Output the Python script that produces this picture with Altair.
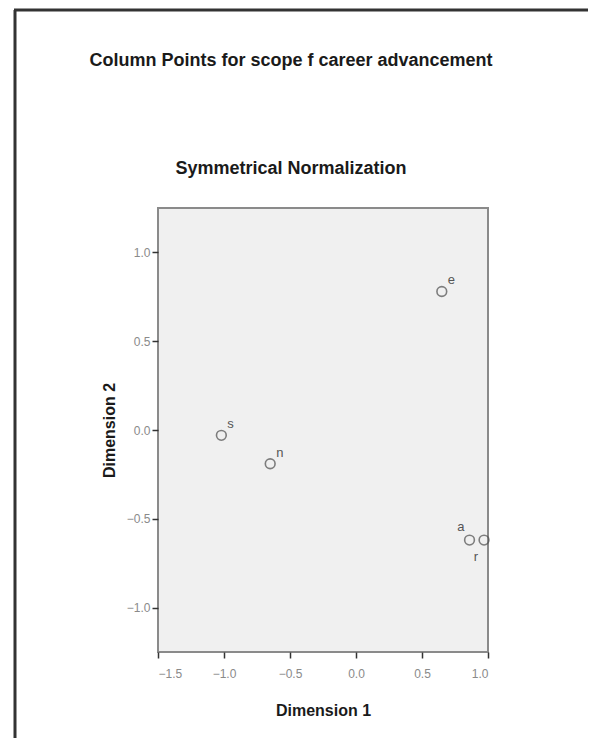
import altair as alt
import pandas as pd

# Column points (Symmetrical Normalization)
labels = ["s", "n", "e", "a", "r"]
dim1 = [-1.02, -0.65, 0.65, 0.86, 0.97]
dim2 = [-0.03, -0.19, 0.78, -0.62, -0.62]
label_group = ["ur", "ur", "ur", "ul", "dl"]

x_ticks = [-1.5, -1.0, -0.5, 0.0, 0.5, 1.0]
y_ticks = [-1.0, -0.5, 0.0, 0.5, 1.0]

main_title = "Column Points for scope f career advancement"
sub_title = "Symmetrical Normalization"

df = pd.DataFrame({"label": labels, "d1": dim1, "d2": dim2, "grp": label_group})

FONT = "Liberation Sans"

x_enc = alt.X("d1:Q", title="Dimension 1",
              scale=alt.Scale(domain=[-1.5, 1.0], nice=False, zero=False),
              axis=alt.Axis(values=x_ticks, format=".1f", labelPadding=10, titlePadding=23))
y_enc = alt.Y("d2:Q", title="Dimension 2",
              scale=alt.Scale(domain=[-1.25, 1.25], nice=False, zero=False),
              axis=alt.Axis(values=y_ticks, format=".1f", titlePadding=9))

base = alt.Chart(df)

points = base.mark_point(shape="circle", filled=False, size=95,
                         color="#4d4d4d", strokeWidth=1.6).encode(x=x_enc, y=y_enc)

def lab(grp, dx, dy, align):
    return base.transform_filter(alt.datum.grp == grp).mark_text(
        dx=dx, dy=dy, align=align, fontSize=13, font=FONT, color="#555555"
    ).encode(x="d1:Q", y="d2:Q", text="label:N")

lab_ur = lab("ur", 6, -11, "left")
lab_ul = lab("ul", -5, -13, "right")
lab_dl = lab("dl", -6, 17, "right")

one = pd.DataFrame({"k": [0]})
frame_left = alt.Chart(one).mark_rule(color="#333333", strokeWidth=3).encode(
    x=alt.value(-143), y=alt.value(-198), y2=alt.value(540))
frame_top = alt.Chart(one).mark_rule(color="#333333", strokeWidth=3).encode(
    x=alt.value(-144), x2=alt.value(460), y=alt.value(-198))

title_txt = alt.Chart(pd.DataFrame({"t": [main_title]})).mark_text(
    font=FONT, fontSize=18, fontWeight="bold", color="#1a1a1a",
    align="center", baseline="alphabetic"
).encode(x=alt.value(133), y=alt.value(-142), text="t:N")
sub_txt = alt.Chart(pd.DataFrame({"t": [sub_title]})).mark_text(
    font=FONT, fontSize=18, fontWeight="bold", color="#1a1a1a",
    align="center", baseline="alphabetic"
).encode(x=alt.value(133), y=alt.value(-34), text="t:N")

chart = alt.layer(frame_left, frame_top, title_txt, sub_txt,
                  points, lab_ur, lab_ul, lab_dl).properties(
    width=330, height=444,
    background="white",
    autosize=alt.AutoSizeParams(type="none"),
    padding={"left": 150, "top": 200, "right": 100, "bottom": 86},
).configure_view(
    fill="#f0f0f0", stroke="#8a8a8a", strokeWidth=2
).configure_axis(
    grid=False, domain=False,
    tickColor="#333333", tickSize=6, tickWidth=1.5,
    labelColor="#8a8a8a", labelFont=FONT, labelFontSize=12,
    titleFont=FONT, titleFontSize=16, titleFontWeight="bold", titleColor="#1a1a1a",
)

chart.save("out.html", embed_options={"renderer": "svg", "actions": False})
